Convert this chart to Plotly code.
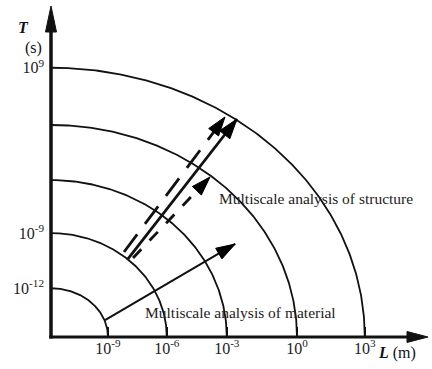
import numpy as np
import plotly.graph_objects as go

# ---- data (schematic units) ----
# scale rings: radius along the L axis and along the T axis
ring_L = [0.95, 1.93, 2.93, 4.10, 5.23]
ring_T = [0.92, 1.96, 2.96, 4.00, 5.08]
L_tick_labels = ["10<sup>-9</sup>", "10<sup>-6</sup>", "10<sup>-3</sup>", "10<sup>0</sup>", "10<sup>3</sup>"]
T_tick_rings = [0, 1, 4]          # rings that carry a T label
T_tick_labels = ["10<sup>-12</sup>", "10<sup>-9</sup>", "10<sup>9</sup>"]

# arrows: [L_start, L_end], [T_start, T_end]
material_L = [0.90, 3.07]
material_T = [0.32, 1.755]
structure_solid_L = [1.283, 3.10]
structure_solid_T = [1.472, 4.113]
structure_dash1_L = [1.217, 2.90]
structure_dash1_T = [1.604, 4.151]
structure_dash2_L = [1.367, 2.65]
structure_dash2_T = [1.491, 3.019]

label_structure = "Multiscale analysis of structure"
label_material = "Multiscale analysis of material"

FONT = "Liberation Serif, Times New Roman, serif"
INK = "#111111"

fig = go.Figure()

# rings
th = np.linspace(0, np.pi / 2, 200)
for a, b in zip(ring_L, ring_T):
    fig.add_trace(go.Scatter(x=a * np.cos(th), y=b * np.sin(th), mode="lines",
                             line=dict(color=INK, width=1.8), hoverinfo="skip",
                             showlegend=False))


def arrow(xs, ys, width, dash=None, size=17):
    fig.add_trace(go.Scatter(
        x=xs, y=ys, mode="lines",
        line=dict(color=INK, width=width, dash=dash),
        hoverinfo="skip", showlegend=False))
    fig.add_trace(go.Scatter(
        x=xs, y=ys, mode="markers",
        marker=dict(symbol="arrow", angleref="previous", size=[0, size],
                    color="black", opacity=1, line=dict(width=1, color="black")),
        hoverinfo="skip", showlegend=False))


arrow(material_L, material_T, 2.0, size=20)
arrow(structure_solid_L, structure_solid_T, 2.8, size=21)
arrow(structure_dash1_L, structure_dash1_T, 2.8, dash="22px,13px", size=20)
arrow(structure_dash2_L, structure_dash2_T, 2.8, dash="12px,12px", size=20)

fig.add_annotation(x=2.767, y=2.604, text=label_structure, showarrow=False,
                   xanchor="left", yanchor="middle",
                   font=dict(family=FONT, size=15.5, color="#222"))
fig.add_annotation(x=1.533, y=0.453, text=label_material, showarrow=False,
                   xanchor="left", yanchor="middle",
                   font=dict(family=FONT, size=15.5, color="#222"))

# axis titles
fig.add_annotation(xref="paper", yref="paper", x=-0.0919, y=0.9496,
                   text="<b><i>T</i></b>", showarrow=False,
                   font=dict(family=FONT, size=16, color=INK))
fig.add_annotation(xref="paper", yref="paper", x=-0.0735, y=0.890,
                   text="(s)", showarrow=False,
                   font=dict(family=FONT, size=16, color=INK))
fig.add_annotation(xref="paper", yref="paper", x=0.853, y=-0.0475,
                   text="<b><i>L</i></b> (m)", showarrow=False,
                   xanchor="left", yanchor="middle",
                   font=dict(family=FONT, size=16, color=INK))

# axis lines and arrowheads
fig.add_shape(type="line", xref="paper", yref="paper", x0=0, y0=-1.5 / 337, x1=0, y1=0.93,
              line=dict(color=INK, width=3.5))
fig.add_shape(type="line", xref="paper", yref="paper", x0=-1.7 / 381, y0=0, x1=0.94, y1=0,
              line=dict(color=INK, width=3))
fig.add_shape(type="path", xref="paper", yref="paper",
              path="M 0,0.9822 L -0.01444,0.905 L 0.01444,0.905 Z",
              fillcolor=INK, line=dict(color=INK, width=1))
fig.add_shape(type="path", xref="paper", yref="paper",
              path="M 0.9895,0 L 0.9344,0.01632 L 0.9344,-0.01632 Z",
              fillcolor=INK, line=dict(color=INK, width=1))

fig.update_layout(
    width=432, height=369,
    margin=dict(l=51, r=0, t=0, b=32),
    paper_bgcolor="white", plot_bgcolor="white",
    showlegend=False,
    xaxis=dict(range=[0, 6.35], showgrid=False, zeroline=False, showline=False,
               tickvals=ring_L, ticktext=L_tick_labels, ticks="inside",
               ticklen=10, tickwidth=2, tickcolor=INK,
               tickfont=dict(family=FONT, size=16, color="#222")),
    yaxis=dict(range=[0, 6.358], showgrid=False, zeroline=False, showline=False,
               tickvals=[ring_T[i] for i in T_tick_rings], ticktext=T_tick_labels,
               ticks="", ticklabelstandoff=6,
               tickfont=dict(family=FONT, size=16, color="#222")),
)

fig.write_html("out.html")
